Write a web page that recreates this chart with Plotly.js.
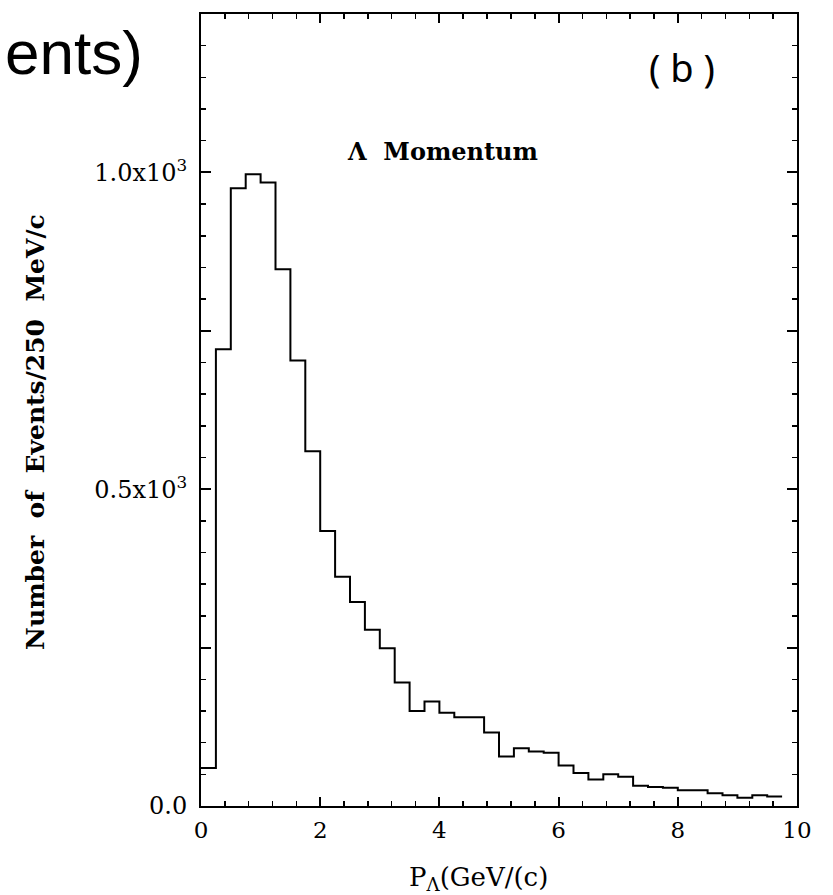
<!DOCTYPE html>
<html>
<head>
<meta charset="utf-8">
<script src="https://cdn.plot.ly/plotly-3.0.1.min.js"></script>
<style>
  html, body { margin: 0; padding: 0; background: #ffffff; }
  #chart { width: 833px; height: 895px; }
</style>
</head>
<body>
<div id="chart"></div>
<script>
// Bin edges of the Λ momentum histogram (GeV/c), 250 MeV/c wide
const binEdges = [0, 0.25, 0.5, 0.75, 1.0, 1.25, 1.5, 1.75, 2.0, 2.25,
                  2.5, 2.75, 3.0, 3.25, 3.5, 3.75, 4.0, 4.25, 4.5, 4.75,
                  5.0, 5.25, 5.5, 5.75, 6.0, 6.25, 6.5, 6.75, 7.0, 7.25,
                  7.5, 7.75, 8.0, 8.25, 8.5, 8.75, 9.0, 9.25, 9.5, 9.75];
// Number of events per bin
const counts = [60, 721, 975, 997, 984, 847, 703, 560, 434, 362,
                322, 278, 249, 195, 150, 165, 147, 140, 140, 116,
                78, 91, 86, 84, 64, 52, 42, 50, 46, 32,
                30, 29, 25, 25, 20, 17, 13, 17, 15];
// Axis tick labels
const xTickVals = [0, 2, 4, 6, 8, 10];
const xTickText = ['0', '2', '4', '6', '8', '10'];
const yTickVals = [0, 250, 500, 750, 1000, 1250];
const yTickText = ['0.0', '', '0.5x10<sup>3</sup>', '', '1.0x10<sup>3</sup>', ''];

const stepY = counts.concat([counts[counts.length - 1]]);

const trace = {
  type: 'scatter',
  mode: 'lines',
  x: binEdges,
  y: stepY,
  line: { shape: 'hv', color: '#000000', width: 2 },
  hoverinfo: 'skip',
  showlegend: false
};

const serif = 'DejaVu Serif, serif';

const layout = {
  width: 833,
  height: 895,
  margin: { l: 201, r: 36, t: 14, b: 89, pad: 0 },
  paper_bgcolor: '#ffffff',
  plot_bgcolor: '#ffffff',
  showlegend: false,
  xaxis: {
    range: [0, 10],
    tickmode: 'array',
    tickvals: xTickVals,
    ticktext: xTickText,
    ticks: 'inside',
    ticklen: 9,
    tickwidth: 2,
    tickcolor: '#000',
    minor: { dtick: 0.4, tick0: 0, ticks: 'inside', ticklen: 5, tickwidth: 1.5, tickcolor: '#000', showgrid: false },
    showline: true,
    linecolor: '#000',
    linewidth: 2,
    mirror: 'ticks',
    showgrid: false,
    zeroline: false,
    ticklabelstandoff: 2,
    tickfont: { family: serif, size: 23, color: '#000' }
  },
  yaxis: {
    range: [0, 1250],
    tickmode: 'array',
    tickvals: yTickVals,
    ticktext: yTickText,
    ticks: 'inside',
    ticklen: 10,
    tickwidth: 2,
    tickcolor: '#000',
    minor: { dtick: 50, tick0: 0, ticks: 'inside', ticklen: 5, tickwidth: 1.5, tickcolor: '#000', showgrid: false },
    showline: true,
    linecolor: '#000',
    linewidth: 2,
    mirror: 'ticks',
    showgrid: false,
    zeroline: false,
    ticklabelstandoff: 7,
    tickfont: { family: serif, size: 24, color: '#000' }
  },
  annotations: [
    {
      text: 'ents)',
      xref: 'paper', yref: 'paper',
      x: -0.333, y: 0.952,
      xanchor: 'left', yanchor: 'middle',
      showarrow: false,
      font: { family: 'Liberation Sans, sans-serif', size: 62, color: '#000' }
    },
    {
      text: '(\u00a0b\u00a0)',
      xref: 'paper', yref: 'paper',
      x: 0.807, y: 0.933,
      xanchor: 'center', yanchor: 'middle',
      showarrow: false,
      font: { family: 'Noto Sans, sans-serif', size: 38, color: '#000' }
    },
    {
      text: 'Λ\u00a0\u00a0Momentum',
      xref: 'paper', yref: 'paper',
      x: 0.406, y: 0.826,
      xanchor: 'center', yanchor: 'middle',
      showarrow: false,
      font: { family: serif, size: 24, color: '#000', weight: 'bold' }
    },
    {
      text: 'P<sub>Λ</sub>(GeV/(c)',
      xref: 'paper', yref: 'paper',
      x: 0.465, y: -0.091,
      xanchor: 'center', yanchor: 'middle',
      showarrow: false,
      font: { family: serif, size: 26, color: '#000' }
    },
    {
      text: 'Number\u00a0 of\u00a0 Events/250\u00a0 MeV/c',
      xref: 'paper', yref: 'paper',
      x: -0.279, y: 0.472,
      xanchor: 'center', yanchor: 'middle',
      textangle: -90,
      showarrow: false,
      font: { family: serif, size: 25, color: '#000', weight: 'bold' }
    }
  ]
};

Plotly.newPlot('chart', [trace], layout, { displayModeBar: false, staticPlot: true });
</script>
</body>
</html>
